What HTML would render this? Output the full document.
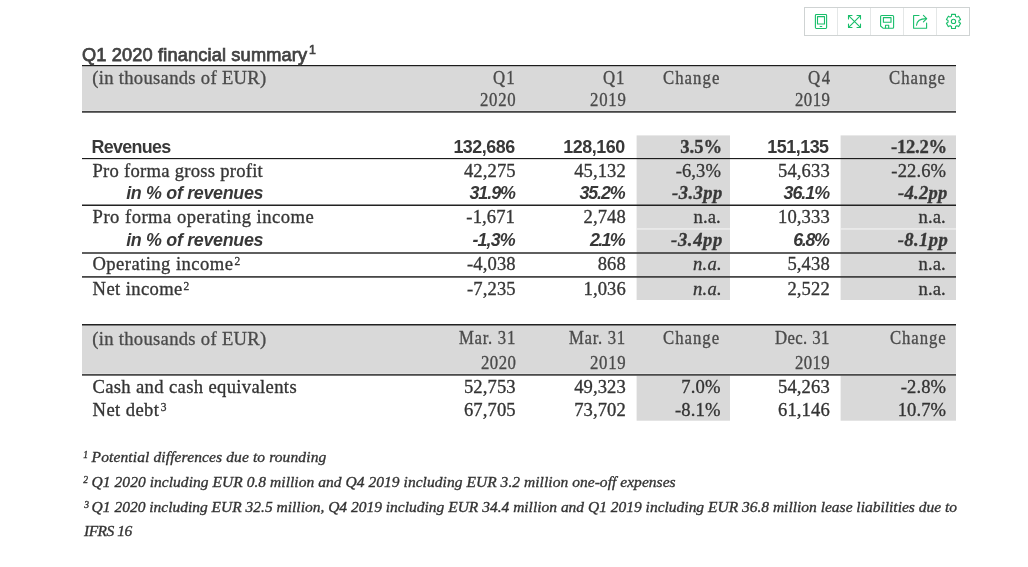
<!DOCTYPE html>
<html><head><meta charset="utf-8"><title>Q1 2020 financial summary</title>
<style>
html,body{margin:0;padding:0;background:#fff;}
body{width:1028px;height:567px;position:relative;overflow:hidden;font-family:"Liberation Serif", serif;}
#bg{position:absolute;left:0;top:0;}
.t{position:absolute;line-height:1;white-space:nowrap;transform-origin:0 50%;}
.se{font-family:"Liberation Serif", serif;-webkit-text-stroke:0.32px currentColor;}
.sa{font-family:"Liberation Sans", sans-serif;}
#tb{position:absolute;left:0;top:0;}
#tx{position:absolute;left:0;top:0;width:1028px;height:567px;filter:blur(0.35px);}
</style></head><body>
<svg id="bg" width="1028" height="567" viewBox="0 0 1028 567"><rect x="82.0" y="66" width="874.00" height="45.60" fill="#d9d9d9"/><rect x="636.6" y="135.4" width="93.40" height="164.60" fill="#d9d9d9"/><rect x="840.6" y="135.4" width="115.40" height="164.60" fill="#d9d9d9"/><rect x="636.6" y="228.3" width="93.40" height="1.30" fill="#f0f0f0"/><rect x="840.6" y="228.3" width="115.40" height="1.30" fill="#f0f0f0"/><rect x="82.0" y="325" width="874.00" height="49.40" fill="#d9d9d9"/><rect x="636.6" y="375.6" width="93.40" height="45.10" fill="#d9d9d9"/><rect x="840.6" y="375.6" width="115.40" height="45.10" fill="#d9d9d9"/><rect x="82.0" y="110.3" width="874.00" height="0.70" fill="#e2e2e2"/><rect x="82.0" y="373.3" width="874.00" height="0.70" fill="#e2e2e2"/><rect x="82.0" y="65" width="874.00" height="1.20" fill="#1c1c1c"/><rect x="82.0" y="111.1" width="874.00" height="1.60" fill="#333"/><rect x="82.0" y="158" width="874.00" height="1.15" fill="#1c1c1c"/><rect x="82.0" y="204.5" width="874.00" height="1.50" fill="#222"/><rect x="82.0" y="252.2" width="874.00" height="1.60" fill="#383838"/><rect x="82.0" y="276.1" width="874.00" height="1.60" fill="#333"/><rect x="82.0" y="324" width="874.00" height="1.50" fill="#222"/><rect x="82.0" y="374.1" width="874.00" height="1.60" fill="#383838"/></svg>
<svg id="tb" width="1028" height="45" viewBox="0 0 1028 45" fill="none">
<rect x="804.5" y="7.5" width="165" height="28" stroke="#cfd3d3" stroke-width="1"/>
<g stroke="#e4e7e7" stroke-width="1"><path d="M837.5 8v27M870.5 8v27M903.5 8v27M936.5 8v27"/></g>
<g stroke="#19be6b" stroke-width="1.1" stroke-linecap="round" stroke-linejoin="round">
<!-- tablet -->
<rect x="815.4" y="14.5" width="11.2" height="14" rx="0.9"/>
<rect x="817.5" y="16.6" width="7" height="7.4"/>
<path d="M820.2 26.5h1.6"/>
<!-- expand -->
<path d="M848.6 15.6L860.4 27.4M860.4 15.6L848.6 27.4"/>
<path d="M848.5 19v-3.5h3.5M857 15.5h3.5V19M860.5 24v3.5H857M852 27.500h-3.5V24"/>
<!-- save -->
<path d="M881.6 15.500h11a1 1 0 0 1 1 1v10.7a1 1 0 0 1 -1 1h-9.6l-2.400-2.200v-9.500a1 1 0 0 1 1-1z"/>
<rect x="883.4" y="17.600" width="7.6" height="4.600"/>
<path d="M885.500 28v-2.700h3.200V28"/>
<!-- share -->
<path d="M919 15.500h-5.400v12.700h13V23"/>
<path d="M916.500 25.300c0.300-4 3.500-6.700 9.800-6.700"/>
<path d="M923.400 15.400l3.300 3.200l-3.300 3.200"/>
<!-- gear -->
<circle cx="953.5" cy="21.400" r="2.150"/>
<path d="M951.53 16.27 L951.55 14.37 L955.45 14.37 L955.47 16.27 L956.96 17.13 L958.62 16.19 L960.57 19.57 L958.93 20.54 L958.93 22.26 L960.57 23.23 L958.62 26.61 L956.96 25.67 L955.47 26.53 L955.45 28.43 L951.55 28.43 L951.53 26.53 L950.04 25.67 L948.38 26.61 L946.43 23.23 L948.07 22.26 L948.07 20.54 L946.43 19.57 L948.38 16.19 L950.04 17.13Z"/>
</g>
</svg>

<div id="tx">
<div class="t sa" style="left:82.30px;top:46.01px;font-size:18.8px;letter-spacing:0.144px;color:#424242;transform:scaleX(0.97);-webkit-text-stroke:0.75px #424242;">Q1 2020 financial summary</div>
<div class="t sa" style="left:309.00px;top:44.40px;font-size:12.3px;letter-spacing:0.000px;color:#424242;-webkit-text-stroke:0.7px #424242;">1</div>
<div class="t se" style="left:92.30px;top:69.02px;font-size:18.6px;letter-spacing:0.302px;color:#4a4a4a;">(in thousands of EUR)</div>
<div class="t se" style="left:492.60px;top:69.02px;font-size:18.6px;letter-spacing:1.239px;color:#4a4a4a;transform:scaleX(0.9);">Q1</div>
<div class="t se" style="left:479.90px;top:91.02px;font-size:18.6px;letter-spacing:0.814px;color:#4a4a4a;transform:scaleX(0.9);">2020</div>
<div class="t se" style="left:603.20px;top:69.02px;font-size:18.6px;letter-spacing:1.128px;color:#4a4a4a;transform:scaleX(0.9);">Q1</div>
<div class="t se" style="left:589.90px;top:91.02px;font-size:18.6px;letter-spacing:0.888px;color:#4a4a4a;transform:scaleX(0.9);">2019</div>
<div class="t se" style="left:663.30px;top:69.02px;font-size:18.6px;letter-spacing:1.158px;color:#4a4a4a;transform:scaleX(0.9);">Change</div>
<div class="t se" style="left:807.50px;top:69.02px;font-size:18.6px;letter-spacing:1.794px;color:#4a4a4a;transform:scaleX(0.9);">Q4</div>
<div class="t se" style="left:794.70px;top:91.02px;font-size:18.6px;letter-spacing:0.555px;color:#4a4a4a;transform:scaleX(0.9);">2019</div>
<div class="t se" style="left:889.20px;top:69.02px;font-size:18.6px;letter-spacing:1.091px;color:#4a4a4a;transform:scaleX(0.9);">Change</div>
<div class="t sa" style="left:91.60px;top:139.00px;font-size:17.9px;letter-spacing:-0.711px;color:#383838;font-weight:bold;">Revenues</div>
<div class="t sa" style="left:453.40px;top:139.00px;font-size:17.9px;letter-spacing:-0.470px;color:#383838;font-weight:bold;">132,686</div>
<div class="t sa" style="left:563.30px;top:139.00px;font-size:17.9px;letter-spacing:-0.470px;color:#383838;font-weight:bold;">128,160</div>
<div class="t se" style="left:680.26px;top:138.02px;font-size:18.6px;letter-spacing:0.000px;color:#383838;font-weight:bold;">3.5%</div>
<div class="t sa" style="left:767.30px;top:139.00px;font-size:17.9px;letter-spacing:-0.487px;color:#383838;font-weight:bold;">151,135</div>
<div class="t se" style="left:890.90px;top:138.02px;font-size:18.6px;letter-spacing:-0.206px;color:#383838;font-weight:bold;">-12.2%</div>
<div class="t se" style="left:92.50px;top:162.02px;font-size:18.6px;letter-spacing:0.263px;color:#363636;">Pro forma gross profit</div>
<div class="t se" style="left:463.96px;top:162.02px;font-size:18.6px;letter-spacing:0.100px;color:#363636;">42,275</div>
<div class="t se" style="left:574.16px;top:162.02px;font-size:18.6px;letter-spacing:0.100px;color:#363636;">45,132</div>
<div class="t se" style="left:675.67px;top:162.02px;font-size:18.6px;letter-spacing:0.100px;color:#363636;">-6,3%</div>
<div class="t se" style="left:778.06px;top:162.02px;font-size:18.6px;letter-spacing:0.100px;color:#363636;">54,633</div>
<div class="t se" style="left:891.37px;top:162.02px;font-size:18.6px;letter-spacing:0.100px;color:#363636;">-22.6%</div>
<div class="t sa" style="left:126.20px;top:185.00px;font-size:17.9px;letter-spacing:-0.322px;color:#383838;font-weight:bold;font-style:italic;">in % of revenues</div>
<div class="t sa" style="left:469.50px;top:185.00px;font-size:17.9px;letter-spacing:-1.080px;color:#383838;font-weight:bold;font-style:italic;">31.9%</div>
<div class="t sa" style="left:579.40px;top:185.00px;font-size:17.9px;letter-spacing:-1.105px;color:#383838;font-weight:bold;font-style:italic;">35.2%</div>
<div class="t se" style="left:672.00px;top:184.02px;font-size:18.6px;letter-spacing:0.454px;color:#383838;font-weight:bold;font-style:italic;">-3.3pp</div>
<div class="t sa" style="left:783.50px;top:185.00px;font-size:17.9px;letter-spacing:-1.030px;color:#383838;font-weight:bold;font-style:italic;">36.1%</div>
<div class="t se" style="left:898.00px;top:184.02px;font-size:18.6px;letter-spacing:0.254px;color:#383838;font-weight:bold;font-style:italic;">-4.2pp</div>
<div class="t se" style="left:92.60px;top:208.02px;font-size:18.6px;letter-spacing:0.481px;color:#363636;">Pro forma operating income</div>
<div class="t se" style="left:466.37px;top:208.02px;font-size:18.6px;letter-spacing:0.100px;color:#363636;">-1,671</div>
<div class="t se" style="left:583.56px;top:208.02px;font-size:18.6px;letter-spacing:0.100px;color:#363636;">2,748</div>
<div class="t se" style="left:693.50px;top:208.02px;font-size:18.6px;letter-spacing:0.100px;color:#363636;">n.a.</div>
<div class="t se" style="left:778.06px;top:208.02px;font-size:18.6px;letter-spacing:0.100px;color:#363636;">10,333</div>
<div class="t se" style="left:918.50px;top:208.02px;font-size:18.6px;letter-spacing:0.100px;color:#363636;">n.a.</div>
<div class="t sa" style="left:126.20px;top:232.00px;font-size:17.9px;letter-spacing:-0.322px;color:#383838;font-weight:bold;font-style:italic;">in % of revenues</div>
<div class="t sa" style="left:472.40px;top:232.00px;font-size:17.9px;letter-spacing:-0.857px;color:#383838;font-weight:bold;font-style:italic;">-1,3%</div>
<div class="t sa" style="left:590.10px;top:232.00px;font-size:17.9px;letter-spacing:-1.723px;color:#383838;font-weight:bold;font-style:italic;">2.1%</div>
<div class="t se" style="left:671.10px;top:231.02px;font-size:18.6px;letter-spacing:0.634px;color:#383838;font-weight:bold;font-style:italic;">-3.4pp</div>
<div class="t sa" style="left:793.20px;top:232.00px;font-size:17.9px;letter-spacing:-1.357px;color:#383838;font-weight:bold;font-style:italic;">6.8%</div>
<div class="t se" style="left:897.70px;top:231.02px;font-size:18.6px;letter-spacing:0.394px;color:#383838;font-weight:bold;font-style:italic;">-8.1pp</div>
<div class="t se" style="left:92.40px;top:255.02px;font-size:18.6px;letter-spacing:0.455px;color:#363636;">Operating income</div>
<div class="t se" style="left:234.50px;top:256.01px;font-size:11.5px;letter-spacing:0.000px;color:#363636;">2</div>
<div class="t se" style="left:467.07px;top:255.02px;font-size:18.6px;letter-spacing:0.100px;color:#363636;">-4,038</div>
<div class="t se" style="left:597.71px;top:255.02px;font-size:18.6px;letter-spacing:0.100px;color:#363636;">868</div>
<div class="t se" style="left:787.46px;top:255.02px;font-size:18.6px;letter-spacing:0.100px;color:#363636;">5,438</div>
<div class="t se" style="left:918.50px;top:255.02px;font-size:18.6px;letter-spacing:0.100px;color:#363636;">n.a.</div>
<div class="t se" style="left:692.90px;top:255.02px;font-size:18.6px;letter-spacing:0.286px;color:#363636;font-style:italic;">n.a.</div>
<div class="t se" style="left:92.60px;top:280.02px;font-size:18.6px;letter-spacing:0.392px;color:#363636;">Net income</div>
<div class="t se" style="left:183.50px;top:281.01px;font-size:11.5px;letter-spacing:0.000px;color:#363636;">2</div>
<div class="t se" style="left:467.07px;top:280.02px;font-size:18.6px;letter-spacing:0.100px;color:#363636;">-7,235</div>
<div class="t se" style="left:583.56px;top:280.02px;font-size:18.6px;letter-spacing:0.100px;color:#363636;">1,036</div>
<div class="t se" style="left:787.46px;top:280.02px;font-size:18.6px;letter-spacing:0.100px;color:#363636;">2,522</div>
<div class="t se" style="left:918.50px;top:280.02px;font-size:18.6px;letter-spacing:0.100px;color:#363636;">n.a.</div>
<div class="t se" style="left:692.90px;top:280.02px;font-size:18.6px;letter-spacing:0.286px;color:#363636;font-style:italic;">n.a.</div>
<div class="t se" style="left:92.30px;top:330.02px;font-size:18.6px;letter-spacing:0.302px;color:#4a4a4a;">(in thousands of EUR)</div>
<div class="t se" style="left:459.20px;top:329.02px;font-size:18.6px;letter-spacing:0.780px;color:#4a4a4a;transform:scaleX(0.9);">Mar. 31</div>
<div class="t se" style="left:481.10px;top:354.02px;font-size:18.6px;letter-spacing:0.518px;color:#4a4a4a;transform:scaleX(0.9);">2020</div>
<div class="t se" style="left:568.70px;top:329.02px;font-size:18.6px;letter-spacing:0.761px;color:#4a4a4a;transform:scaleX(0.9);">Mar. 31</div>
<div class="t se" style="left:589.90px;top:354.02px;font-size:18.6px;letter-spacing:0.777px;color:#4a4a4a;transform:scaleX(0.9);">2019</div>
<div class="t se" style="left:663.30px;top:329.02px;font-size:18.6px;letter-spacing:1.113px;color:#4a4a4a;transform:scaleX(0.9);">Change</div>
<div class="t se" style="left:774.60px;top:329.02px;font-size:18.6px;letter-spacing:0.412px;color:#4a4a4a;transform:scaleX(0.9);">Dec. 31</div>
<div class="t se" style="left:794.80px;top:354.02px;font-size:18.6px;letter-spacing:0.444px;color:#4a4a4a;transform:scaleX(0.9);">2019</div>
<div class="t se" style="left:889.50px;top:329.02px;font-size:18.6px;letter-spacing:1.002px;color:#4a4a4a;transform:scaleX(0.9);">Change</div>
<div class="t se" style="left:92.40px;top:378.02px;font-size:18.6px;letter-spacing:0.356px;color:#333;">Cash and cash equivalents</div>
<div class="t se" style="left:463.96px;top:378.02px;font-size:18.6px;letter-spacing:0.100px;color:#333;">52,753</div>
<div class="t se" style="left:574.16px;top:378.02px;font-size:18.6px;letter-spacing:0.100px;color:#333;">49,323</div>
<div class="t se" style="left:681.36px;top:378.02px;font-size:18.6px;letter-spacing:0.100px;color:#333;">7.0%</div>
<div class="t se" style="left:778.06px;top:378.02px;font-size:18.6px;letter-spacing:0.100px;color:#333;">54,263</div>
<div class="t se" style="left:900.77px;top:378.02px;font-size:18.6px;letter-spacing:0.100px;color:#333;">-2.8%</div>
<div class="t se" style="left:92.60px;top:401.02px;font-size:18.6px;letter-spacing:0.408px;color:#333;">Net debt</div>
<div class="t se" style="left:160.80px;top:402.01px;font-size:11.5px;letter-spacing:0.000px;color:#333;">3</div>
<div class="t se" style="left:463.96px;top:401.02px;font-size:18.6px;letter-spacing:0.100px;color:#333;">67,705</div>
<div class="t se" style="left:574.16px;top:401.02px;font-size:18.6px;letter-spacing:0.100px;color:#333;">73,702</div>
<div class="t se" style="left:675.07px;top:401.02px;font-size:18.6px;letter-spacing:0.100px;color:#333;">-8.1%</div>
<div class="t se" style="left:778.06px;top:401.02px;font-size:18.6px;letter-spacing:0.100px;color:#333;">61,146</div>
<div class="t se" style="left:897.66px;top:401.02px;font-size:18.6px;letter-spacing:0.100px;color:#333;">10.7%</div>
<div class="t se" style="left:83.20px;top:449.51px;font-size:9.6px;letter-spacing:0.000px;color:#333;font-style:italic;-webkit-text-stroke:0.35px currentColor;">1</div>
<div class="t se" style="left:91.60px;top:449.00px;font-size:15.5px;letter-spacing:0.117px;color:#333;font-style:italic;-webkit-text-stroke:0.35px currentColor;">Potential differences due to rounding</div>
<div class="t se" style="left:83.20px;top:474.51px;font-size:9.6px;letter-spacing:0.000px;color:#333;font-style:italic;-webkit-text-stroke:0.35px currentColor;">2</div>
<div class="t se" style="left:91.60px;top:474.00px;font-size:15.5px;letter-spacing:0.043px;color:#333;font-style:italic;-webkit-text-stroke:0.35px currentColor;">Q1 2020 including EUR 0.8 million and Q4 2019 including EUR 3.2 million one-off expenses</div>
<div class="t se" style="left:84.20px;top:499.51px;font-size:9.6px;letter-spacing:0.000px;color:#333;font-style:italic;-webkit-text-stroke:0.35px currentColor;">3</div>
<div class="t se" style="left:91.60px;top:499.00px;font-size:15.5px;letter-spacing:-0.006px;color:#333;font-style:italic;-webkit-text-stroke:0.35px currentColor;">Q1 2020 including EUR 32.5 million, Q4 2019 including EUR 34.4 million and Q1 2019 including EUR 36.8 million lease liabilities due to</div>
<div class="t se" style="left:84.00px;top:523.00px;font-size:15.5px;letter-spacing:-0.512px;color:#333;font-style:italic;-webkit-text-stroke:0.35px currentColor;">IFRS 16</div>
</div>
</body></html>
